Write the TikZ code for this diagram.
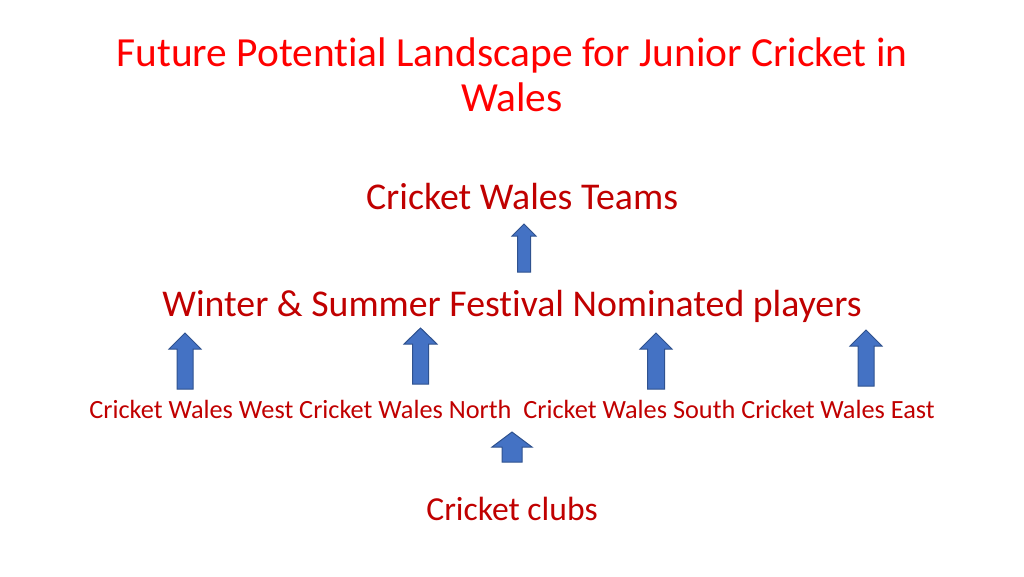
\documentclass[tikz,border=0pt]{standalone}
\usepackage{fontspec}
\setmainfont{Carlito}[Ligatures=CommonOff]
\definecolor{ttlred}{HTML}{FF0000}
\definecolor{txtred}{HTML}{C00000}
\definecolor{arrblue}{HTML}{4472C4}
\definecolor{arrline}{HTML}{2F528F}
\tikzset{
    ttlsty/.style={text=ttlred,font=\fontsize{41.4}{45}\selectfont,align=center,inner sep=0pt},
    lvlsty/.style={text=txtred,font=\fontsize{37.8}{44}\selectfont,inner sep=0pt},
    regsty/.style={text=txtred,font=\fontsize{26.3}{30}\selectfont,inner sep=0pt},
    clubsty/.style={text=txtred,font=\fontsize{33.6}{40}\selectfont,inner sep=0pt},
    arrsty/.style={draw=arrline,fill=arrblue,line width=1pt,line join=miter},
}
% block arrow: x, tip y, length, half head, half shaft, head length
\newcommand{\uparr}[6]{\draw[arrsty] (#1,#2) -- ++(#4,#6) -- ++({#5-#4},0) -- ++(0,{#3-#6})
    -- ++({-2*#5},0) -- ++(0,{#6-#3}) -- ++({#5-#4},0) -- cycle;}
\begin{document}
\begin{tikzpicture}[x=1pt,y=-1pt]
  \useasboundingbox (0,0) rectangle (1024,576);

  \node[ttlsty] (title) at (512,75) {Future Potential Landscape for Junior Cricket in\\Wales};
  \node[lvlsty] (teams) at (522,197) {Cricket Wales Teams};
  \node[lvlsty] (fest) at (512,306) {Winter \& Summer Festival Nominated players};
  \node[regsty] (regions) at (512,409) {Cricket Wales West Cricket Wales North\ \ Cricket Wales South Cricket Wales East};
  \node[clubsty] (clubs) at (512,509) {Cricket clubs};

  % block arrows
  \uparr{524}{224}{48}{12}{6.5}{12}
  \uparr{185}{333}{56}{16}{8}{16}
  \uparr{420.5}{328}{56}{16.5}{8}{16}
  \uparr{656}{333}{56}{16}{8.5}{16}
  \uparr{866}{330}{56}{16}{8}{16}
  \uparr{512}{432}{30}{20}{10}{15}
\end{tikzpicture}
\end{document}
